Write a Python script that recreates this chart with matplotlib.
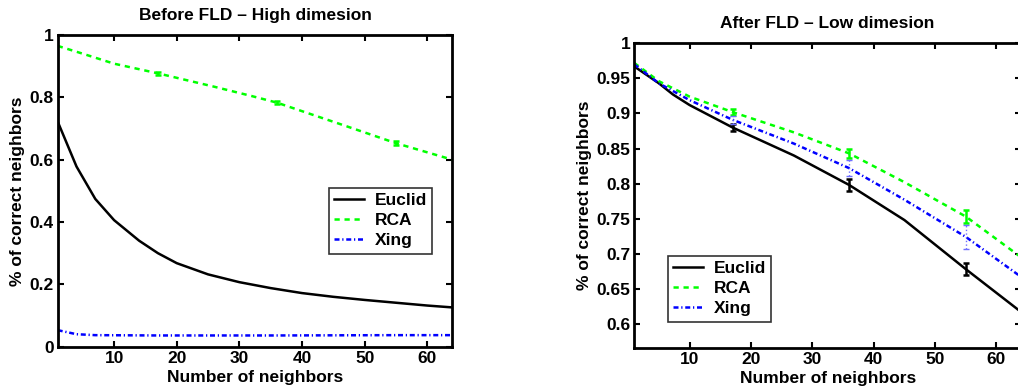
import matplotlib
matplotlib.use("Agg")
import matplotlib.pyplot as plt
import numpy as np

plt.rcParams['font.family'] = ['Liberation Sans', 'DejaVu Sans']
plt.rcParams['font.weight'] = 'bold'

# ---------------- data: before FLD (high dimension) ----------------
hi_euclid_x = [1, 4, 7, 10, 14, 17, 20, 25, 30, 35, 40, 45, 50, 55, 60, 64]
hi_euclid_y = [0.722, 0.578, 0.474, 0.406, 0.34, 0.30, 0.268, 0.232, 0.207, 0.188,
               0.172, 0.160, 0.150, 0.141, 0.132, 0.126]
hi_rca_x = [1, 5, 10, 17, 26, 32, 36, 47, 55, 64]
hi_rca_y = [0.965, 0.940, 0.908, 0.877, 0.834, 0.804, 0.783, 0.708, 0.653, 0.600]
hi_xing_x = [1, 4, 7, 17, 36, 55, 64]
hi_xing_y = [0.053, 0.040, 0.037, 0.036, 0.036, 0.037, 0.037]
hi_err_x = [17, 36, 55]
hi_rca_err_y = [0.877, 0.783, 0.653]
hi_rca_err = [0.004, 0.005, 0.006]

# ---------------- data: after FLD (low dimension) ----------------
lo_euclid_x = [1, 5, 7.3, 10, 17, 27, 36, 45, 55, 64]
lo_euclid_y = [0.967, 0.943, 0.927, 0.912, 0.880, 0.840, 0.798, 0.748, 0.678, 0.617]
lo_rca_x = [1, 5, 10, 17, 27, 36, 45, 55, 64]
lo_rca_y = [0.972, 0.946, 0.924, 0.902, 0.873, 0.843, 0.802, 0.753, 0.695]
lo_xing_x = [1, 5, 10, 17, 27, 36, 45, 55, 64]
lo_xing_y = [0.970, 0.943, 0.919, 0.891, 0.857, 0.822, 0.777, 0.724, 0.667]
lo_err_x = [17, 36, 55]
lo_euclid_err_y = [0.880, 0.798, 0.678]
lo_euclid_err = [0.005, 0.008, 0.009]
lo_rca_err_y = [0.902, 0.843, 0.753]
lo_rca_err = [0.004, 0.007, 0.009]
lo_xing_err_y = [0.891, 0.822, 0.724]
lo_xing_err = [0.006, 0.011, 0.017]

labels = ['Euclid', 'RCA', 'Xing']
titles = ['Before FLD \u2013 High dimesion', 'After FLD \u2013 Low dimesion']
xlabel = 'Number of neighbors'
ylabel = '% of correct neighbors'

GREEN = '#00ff00'
BLUE = '#0000ff'
BLACK = '#000000'
LW = 1.8
FS = 12.5

fig = plt.figure(figsize=(10.18, 3.92), dpi=100)
ax1 = fig.add_axes([0.0567, 0.1156, 0.3876, 0.7951])
ax2 = fig.add_axes([0.6231, 0.113, 0.3799, 0.7765])


def style(ax):
    for s in ax.spines.values():
        s.set_linewidth(2.0)
    ax.tick_params(direction='in', length=4, width=1.5, top=True, right=True,
                   labelsize=FS, pad=3)
    for lab in ax.get_xticklabels() + ax.get_yticklabels():
        lab.set_fontweight('bold')


def lines(ax, ex, ey, rx, ry, xx, xy):
    l1, = ax.plot(ex, ey, '-', color=BLACK, lw=LW)
    l2, = ax.plot(rx, ry, '--', color=GREEN, lw=LW, dashes=(2.1, 1.9))
    l3, = ax.plot(xx, xy, '-.', color=BLUE, lw=LW, dashes=(2.0, 1.1, 0.5, 1.1))
    return [l1, l2, l3]


def legend(ax, h, anchor):
    leg = ax.legend(h, labels, loc='upper left', bbox_to_anchor=anchor,
                    fontsize=FS, frameon=True, fancybox=False, edgecolor='black',
                    handlelength=1.7, borderpad=0.3, labelspacing=0.28,
                    handletextpad=0.65, borderaxespad=0)
    leg.get_frame().set_linewidth(1.2)
    for t in leg.get_texts():
        t.set_fontweight('bold')


# ---- left panel ----
h = lines(ax1, hi_euclid_x, hi_euclid_y, hi_rca_x, hi_rca_y, hi_xing_x, hi_xing_y)
ax1.errorbar(hi_err_x, hi_rca_err_y, yerr=hi_rca_err, fmt='none', ecolor=GREEN,
             elinewidth=1.8, capsize=2.5, capthick=1.8)
ax1.set_xlim(1, 64)
ax1.set_ylim(0, 1)
ax1.set_xticks([10, 20, 30, 40, 50, 60])
ax1.set_yticks([0, 0.2, 0.4, 0.6, 0.8, 1])
ax1.set_yticklabels(['0', '0.2', '0.4', '0.6', '0.8', '1'])
style(ax1)
ax1.set_title(titles[0], fontsize=FS, fontweight='bold', pad=11)
ax1.set_xlabel(xlabel, fontsize=FS, fontweight='bold', labelpad=3)
ax1.set_ylabel(ylabel, fontsize=FS, fontweight='bold', labelpad=3)
legend(ax1, h, (0.6875, 0.509))

# ---- right panel ----
h2 = lines(ax2, lo_euclid_x, lo_euclid_y, lo_rca_x, lo_rca_y, lo_xing_x, lo_xing_y)
ax2.errorbar(lo_err_x, lo_euclid_err_y, yerr=lo_euclid_err, fmt='none', ecolor=BLACK,
             elinewidth=1.8, capsize=2.5, capthick=1.8)
ax2.errorbar(lo_err_x, lo_rca_err_y, yerr=lo_rca_err, fmt='none', ecolor=GREEN,
             elinewidth=1.8, capsize=2.5, capthick=1.8)
eb = ax2.errorbar(lo_err_x, lo_xing_err_y, yerr=lo_xing_err, fmt='none', ecolor='#6f6fff',
                  elinewidth=1.0, capsize=2.5, capthick=1.0)
for c in eb[2]:
    c.set_linestyle(':')
ax2.set_xlim(1, 64)
ax2.set_ylim(0.566, 1)
ax2.set_xticks([10, 20, 30, 40, 50, 60])
ax2.set_yticks([0.6, 0.65, 0.7, 0.75, 0.8, 0.85, 0.9, 0.95, 1])
ax2.set_yticklabels(['0.6', '0.65', '0.7', '0.75', '0.8', '0.85', '0.9', '0.95', '1'])
style(ax2)
ax2.set_title(titles[1], fontsize=FS, fontweight='bold', pad=11)
ax2.set_xlabel(xlabel, fontsize=FS, fontweight='bold', labelpad=3)
ax2.set_ylabel(ylabel, fontsize=FS, fontweight='bold', labelpad=3)
legend(ax2, h2, (0.087, 0.301))

fig.savefig('out.png', dpi=100)
